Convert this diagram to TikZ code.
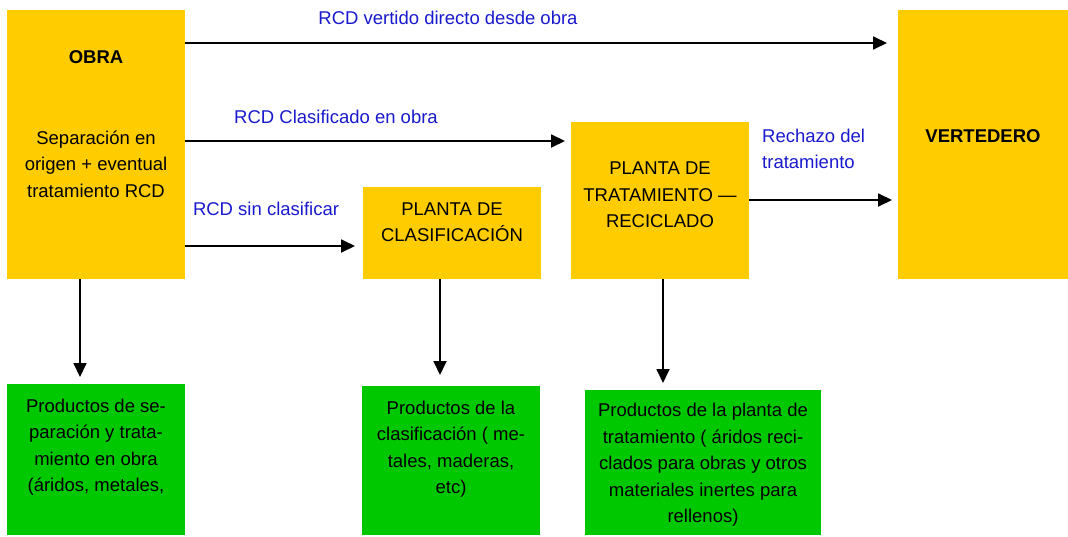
\documentclass[tikz,border=0pt]{standalone}
\usepackage{fontspec}
\setmainfont{Liberation Sans}
\usetikzlibrary{arrows.meta}
\definecolor{ybox}{HTML}{FFCC00}
\definecolor{gbox}{HTML}{00C800}
\definecolor{lblue}{RGB}{25,25,205}
\begin{document}
\begin{tikzpicture}[x=1pt,y=-1pt,
  font=\fontsize{18.5}{26.5}\selectfont,
  yb/.style={fill=ybox, draw=none, inner sep=0pt, anchor=north west},
  gb/.style={fill=gbox, draw=none, inner sep=0pt, anchor=north west},
  txt/.style={align=center, inner sep=0pt, anchor=center, text=black},
  lbl/.style={inner sep=0pt, anchor=center, text=lblue},
  arr/.style={draw=black, line width=1.8pt, -{Triangle[length=14pt,width=13pt]}}]
\useasboundingbox (0,0) rectangle (1068,536);
% boxes
\node[yb, minimum width=178pt, minimum height=269pt] (obra) at (7,10) {};
\node[yb, minimum width=178pt, minimum height=92pt] (clas) at (363,187) {};
\node[yb, minimum width=178pt, minimum height=157pt] (trat) at (571,122) {};
\node[yb, minimum width=170pt, minimum height=269pt] (vert) at (898,10) {};
\node[gb, minimum width=178pt, minimum height=151pt] (g1) at (7,384) {};
\node[gb, minimum width=178pt, minimum height=149pt] (g2) at (362,386) {};
\node[gb, minimum width=236pt, minimum height=145pt] (g3) at (585,390) {};
% texts
\node[txt] (obraT) at (96,57) {\bfseries OBRA};
\node[txt] (obraS) at (96,164) {Separación en\\origen + eventual\\tratamiento RCD};
\node[txt] (clasT) at (452,222) {PLANTA DE\\CLASIFICACIÓN};
\node[txt] (tratT) at (660,195) {PLANTA DE\\TRATAMIENTO —\\RECICLADO};
\node[txt] (vertT) at (983,136) {\bfseries VERTEDERO};
\node[txt] (g1T) at (96,447) {Productos de se-\\paración y trata-\\miento en obra\\(áridos, metales,};
\node[txt] (g2T) at (451,449) {Productos de la\\clasificación ( me-\\tales, maderas,\\etc)};
\node[txt] (g3T) at (703,465) {Productos de la planta de\\tratamiento ( áridos reci-\\clados para obras y otros\\materiales inertes para\\rellenos)};
% labels
\node[lbl] (l1) at (448,18) {RCD vertido directo desde obra};
\node[lbl] (l2) at (336,117) {RCD Clasificado en obra};
\node[lbl] (l3) at (266,209) {RCD sin clasificar};
\node[lbl, align=left, anchor=west] (l4) at (762,149) {Rechazo del\\tratamiento};
% connectors
\draw[arr, shorten >=11pt] (obra.east |- 0,43) -- (vert.west |- 0,43);
\draw[arr, shorten >=6pt] (obra.east |- 0,141) -- (trat.west |- 0,141);
\draw[arr, shorten >=8pt] (obra.east |- 0,246) -- (clas.west |- 0,246);
\draw[arr, shorten >=6pt] (trat.east |- 0,200) -- (vert.west |- 0,200);
\draw[arr, shorten >=7pt] (obra.south -| 80,0) -- (g1.north -| 80,0);
\draw[arr, shorten >=11pt] (clas.south -| 440,0) -- (g2.north -| 440,0);
\draw[arr, shorten >=7pt] (trat.south -| 663,0) -- (g3.north -| 663,0);
\end{tikzpicture}
\end{document}
